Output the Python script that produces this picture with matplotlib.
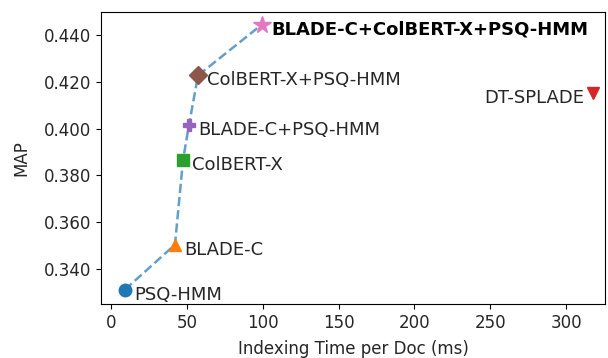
import matplotlib
matplotlib.use("Agg")
import matplotlib.pyplot as plt

names = ["PSQ-HMM", "BLADE-C", "ColBERT-X", "BLADE-C+PSQ-HMM", "ColBERT-X+PSQ-HMM",
         "BLADE-C+ColBERT-X+PSQ-HMM", "DT-SPLADE"]
time_ms = [9.2, 42.2, 47.5, 51.4, 57.4, 99.5, 317.7]
map_vals = [0.3310, 0.3503, 0.3865, 0.4015, 0.4228, 0.4446, 0.4152]
markers = ["o", "^", "s", "P", "D", "*", "v"]
colors = ["tab:blue", "tab:orange", "tab:green", "tab:purple", "tab:brown", "tab:pink", "tab:red"]
frontier = [0, 1, 2, 3, 4, 5]

txt = "#262626"
plt.rcParams['font.size'] = 12
plt.rcParams['text.color'] = txt
plt.rcParams['xtick.labelcolor'] = txt
plt.rcParams['ytick.labelcolor'] = txt
plt.rcParams['axes.labelcolor'] = txt
fig, ax = plt.subplots(figsize=(6.08, 3.58), dpi=100)
ax.plot([time_ms[i] for i in frontier], [map_vals[i] for i in frontier], "--",
        color="tab:blue", alpha=0.7, lw=1.8, zorder=1)
for i, n in enumerate(names):
    ms = 13 if markers[i] == "*" else 9
    ax.plot(time_ms[i], map_vals[i], marker=markers[i], color=colors[i], ms=ms,
            ls="none", zorder=2)
    if n == "DT-SPLADE":
        ax.annotate(n, (time_ms[i], map_vals[i]), xytext=(-6, -3.5), textcoords="offset points",
                    ha="right", va="center", fontsize=13)
    else:
        bold = n == "BLADE-C+ColBERT-X+PSQ-HMM"
        ax.annotate(n, (time_ms[i], map_vals[i]), xytext=(6.5, -3.5), textcoords="offset points",
                    ha="left", va="center", fontsize=13,
                    fontweight="bold" if bold else "normal",
                    color="black" if bold else txt)

ax.set_xlim(-6.6, 325.6)
ax.set_ylim(0.3249, 0.4499)
ax.set_xticks([0, 50, 100, 150, 200, 250, 300])
ax.set_yticks([0.34, 0.36, 0.38, 0.40, 0.42, 0.44])
ax.yaxis.set_major_formatter(matplotlib.ticker.FormatStrFormatter("%.3f"))
ax.set_xlabel("Indexing Time per Doc (ms)", fontsize=12, labelpad=6)
ax.set_ylabel("MAP", fontsize=12, labelpad=10)
fig.subplots_adjust(left=0.166, right=0.995, top=0.966, bottom=0.151)
fig.savefig("out.png", dpi=100)
